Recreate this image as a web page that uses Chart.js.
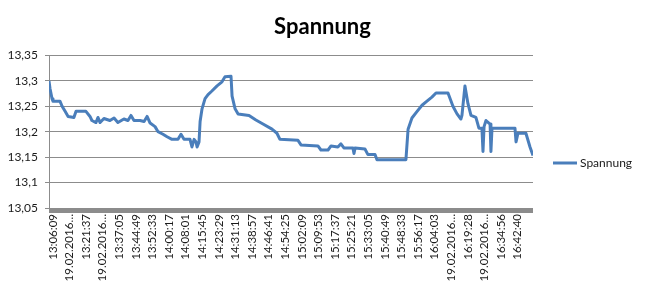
<!DOCTYPE html>
<html>
<head>
<meta charset="utf-8">
<script src="https://cdn.jsdelivr.net/npm/chart.js@4"></script>
<style>
  html, body { margin: 0; padding: 0; background: #fff; }
  #wrap { width: 645px; height: 282px; }
</style>
</head>
<body>
<div id="wrap"><canvas id="chart"></canvas></div>
<script>
// x labels as Excel shows them, one every 464 s (7:44)
var tickLabels = [
  '13:06:09', '19.02.2016…', '13:21:37', '19.02.2016…', '13:37:05', '13:44:49',
  '13:52:33', '14:00:17', '14:08:01', '14:15:45', '14:23:29', '14:31:13',
  '14:38:57', '14:46:41', '14:54:25', '15:02:09', '15:09:53', '15:17:37',
  '15:25:21', '15:33:05', '15:40:49', '15:48:33', '15:56:17', '16:04:03',
  '19.02.2016…', '16:19:28', '19.02.2016…', '16:34:56', '16:42:40'
];
var labelStep = 464;

var yTicks = [13.05, 13.1, 13.15, 13.2, 13.25, 13.3, 13.35];

// minutes after 13:06:09
var elapsedMin = [
  0, 0.47, 1.4, 1.86, 5.1, 6.1, 7.5, 8.9, 11.6, 12.6,
  17.2, 19.1, 20.0, 21.9, 22.8, 23.8, 25.6, 28.4, 30.3, 32.1,
  34.9, 36.8, 38.2, 39.6, 42.4, 44.3, 45.7, 47.1, 49.4, 50.8,
  53.1, 55.0, 57.3, 60.1, 61.5, 62.9, 65.7, 66.6, 67.6, 68.5,
  69.0, 69.9, 70.4, 71.3, 72.7, 74.1, 75.9, 78.3, 80.6, 82.0,
  84.8, 85.3, 86.7, 88.1, 93.2, 96.4, 99.7, 103.9, 106.2, 107.6,
  116.0, 117.4, 125.3, 126.7, 130.0, 131.4, 134.6, 136.0, 137.4, 141.6,
  142.1, 142.6, 147.2, 148.6, 151.9, 152.8, 166.3, 167.3, 169.1, 171.5,
  173.8, 176.1, 178.4, 180.3, 185.9, 188.2, 190.1, 191.9, 192.4, 193.8,
  195.2, 196.6, 198.9, 200.3, 201.7, 202.2, 202.7, 203.6, 205.5, 205.9,
  206.4, 217.1, 217.6, 218.5, 222.2, 224.1, 225.5
];
// Spannung in V
var voltage = [
  13.30, 13.285, 13.265, 13.26, 13.26, 13.25, 13.24, 13.23, 13.228, 13.24,
  13.24, 13.23, 13.222, 13.218, 13.228, 13.218, 13.226, 13.222, 13.227, 13.218,
  13.225, 13.222, 13.232, 13.222, 13.222, 13.22, 13.23, 13.217, 13.21, 13.20,
  13.195, 13.19, 13.185, 13.185, 13.195, 13.185, 13.185, 13.17, 13.185, 13.18,
  13.17, 13.18, 13.22, 13.245, 13.265, 13.273, 13.28, 13.29, 13.298, 13.308,
  13.309, 13.27, 13.245, 13.235, 13.232, 13.223, 13.215, 13.205, 13.197, 13.185,
  13.183, 13.174, 13.172, 13.164, 13.164, 13.172, 13.17, 13.176, 13.168, 13.168,
  13.157, 13.168, 13.166, 13.155, 13.155, 13.145, 13.145, 13.205, 13.227, 13.24,
  13.252, 13.26, 13.268, 13.276, 13.276, 13.25, 13.235, 13.225, 13.232, 13.29,
  13.255, 13.232, 13.228, 13.207, 13.207, 13.161, 13.21, 13.222, 13.215, 13.161,
  13.207, 13.207, 13.18, 13.197, 13.197, 13.17, 13.153
];

var points = elapsedMin.map(function(m, i) {
  return { x: m * 60, y: voltage[i] };
});

// grey band of tick marks under the x axis + the legend on the right
var excelBits = {
  id: 'excelBits',
  afterDraw: function(chart) {
    var ctx = chart.ctx;
    var area = chart.chartArea;
    var ds = chart.data.datasets[0];
    ctx.save();
    ctx.fillStyle = '#8c8c8c';
    ctx.fillRect(area.left, area.bottom, area.right - area.left, 5);

    var lx = area.right + 20;
    var ly = 163;
    ctx.strokeStyle = ds.borderColor;
    ctx.lineWidth = 3;
    ctx.beginPath();
    ctx.moveTo(lx, ly);
    ctx.lineTo(lx + 24, ly);
    ctx.stroke();
    ctx.font = '12px Lato';
    ctx.fillStyle = '#1a1a1a';
    ctx.textBaseline = 'middle';
    ctx.fillText(ds.label, lx + 27, ly);
    ctx.restore();
  }
};

function deNum(v) {
  return String(+v.toFixed(2)).replace('.', ',');
}

new Chart(document.getElementById('chart'), {
  type: 'line',
  data: {
    datasets: [{
      label: 'Spannung',
      data: points,
      borderColor: '#4a7ebb',
      borderWidth: 3,
      pointRadius: 0,
      tension: 0,
      borderJoinStyle: 'round'
    }]
  },
  options: {
    responsive: true,
    maintainAspectRatio: false,
    devicePixelRatio: 1,
    animation: false,
    plugins: {
      legend: { display: false },
      tooltip: { enabled: false },
      title: {
        display: true,
        text: 'Spannung',
        color: '#000',
        font: { family: 'Lato', size: 22, weight: 'bold' },
        padding: { top: 14, bottom: 15 }
      }
    },
    scales: {
      x: {
        type: 'linear',
        min: 0,
        max: elapsedMin[elapsedMin.length - 1] * 60,
        grid: { display: false, drawTicks: false },
        border: { display: false },
        afterBuildTicks: function(axis) {
          axis.ticks = tickLabels.map(function(l, i) { return { value: i * labelStep }; });
        },
        afterFit: function(axis) { axis.height = 74; },
        ticks: {
          autoSkip: false,
          minRotation: 90,
          maxRotation: 90,
          padding: 6,
          labelOffset: 4,
          color: '#1a1a1a',
          font: { family: 'Lato', size: 11.5 },
          callback: function(v, i) { return tickLabels[i]; }
        }
      },
      y: {
        min: 13.05,
        max: 13.35,
        afterBuildTicks: function(axis) {
          axis.ticks = yTicks.map(function(v) { return { value: v }; });
        },
        afterFit: function(axis) { axis.width = 49; },
        grid: { color: '#8c8c8c', tickLength: 4 },
        border: { color: '#8c8c8c' },
        ticks: {
          padding: 7,
          color: '#1a1a1a',
          font: { family: 'Lato', size: 12 },
          callback: function(v) { return deNum(v); }
        }
      },
      // empty room on the right where the legend sits
      legendSpace: {
        type: 'linear',
        position: 'right',
        grid: { display: false, drawTicks: false },
        border: { display: false },
        ticks: { display: false },
        afterFit: function(axis) { axis.width = 112; }
      }
    }
  },
  plugins: [excelBits]
});
</script>
</body>
</html>
